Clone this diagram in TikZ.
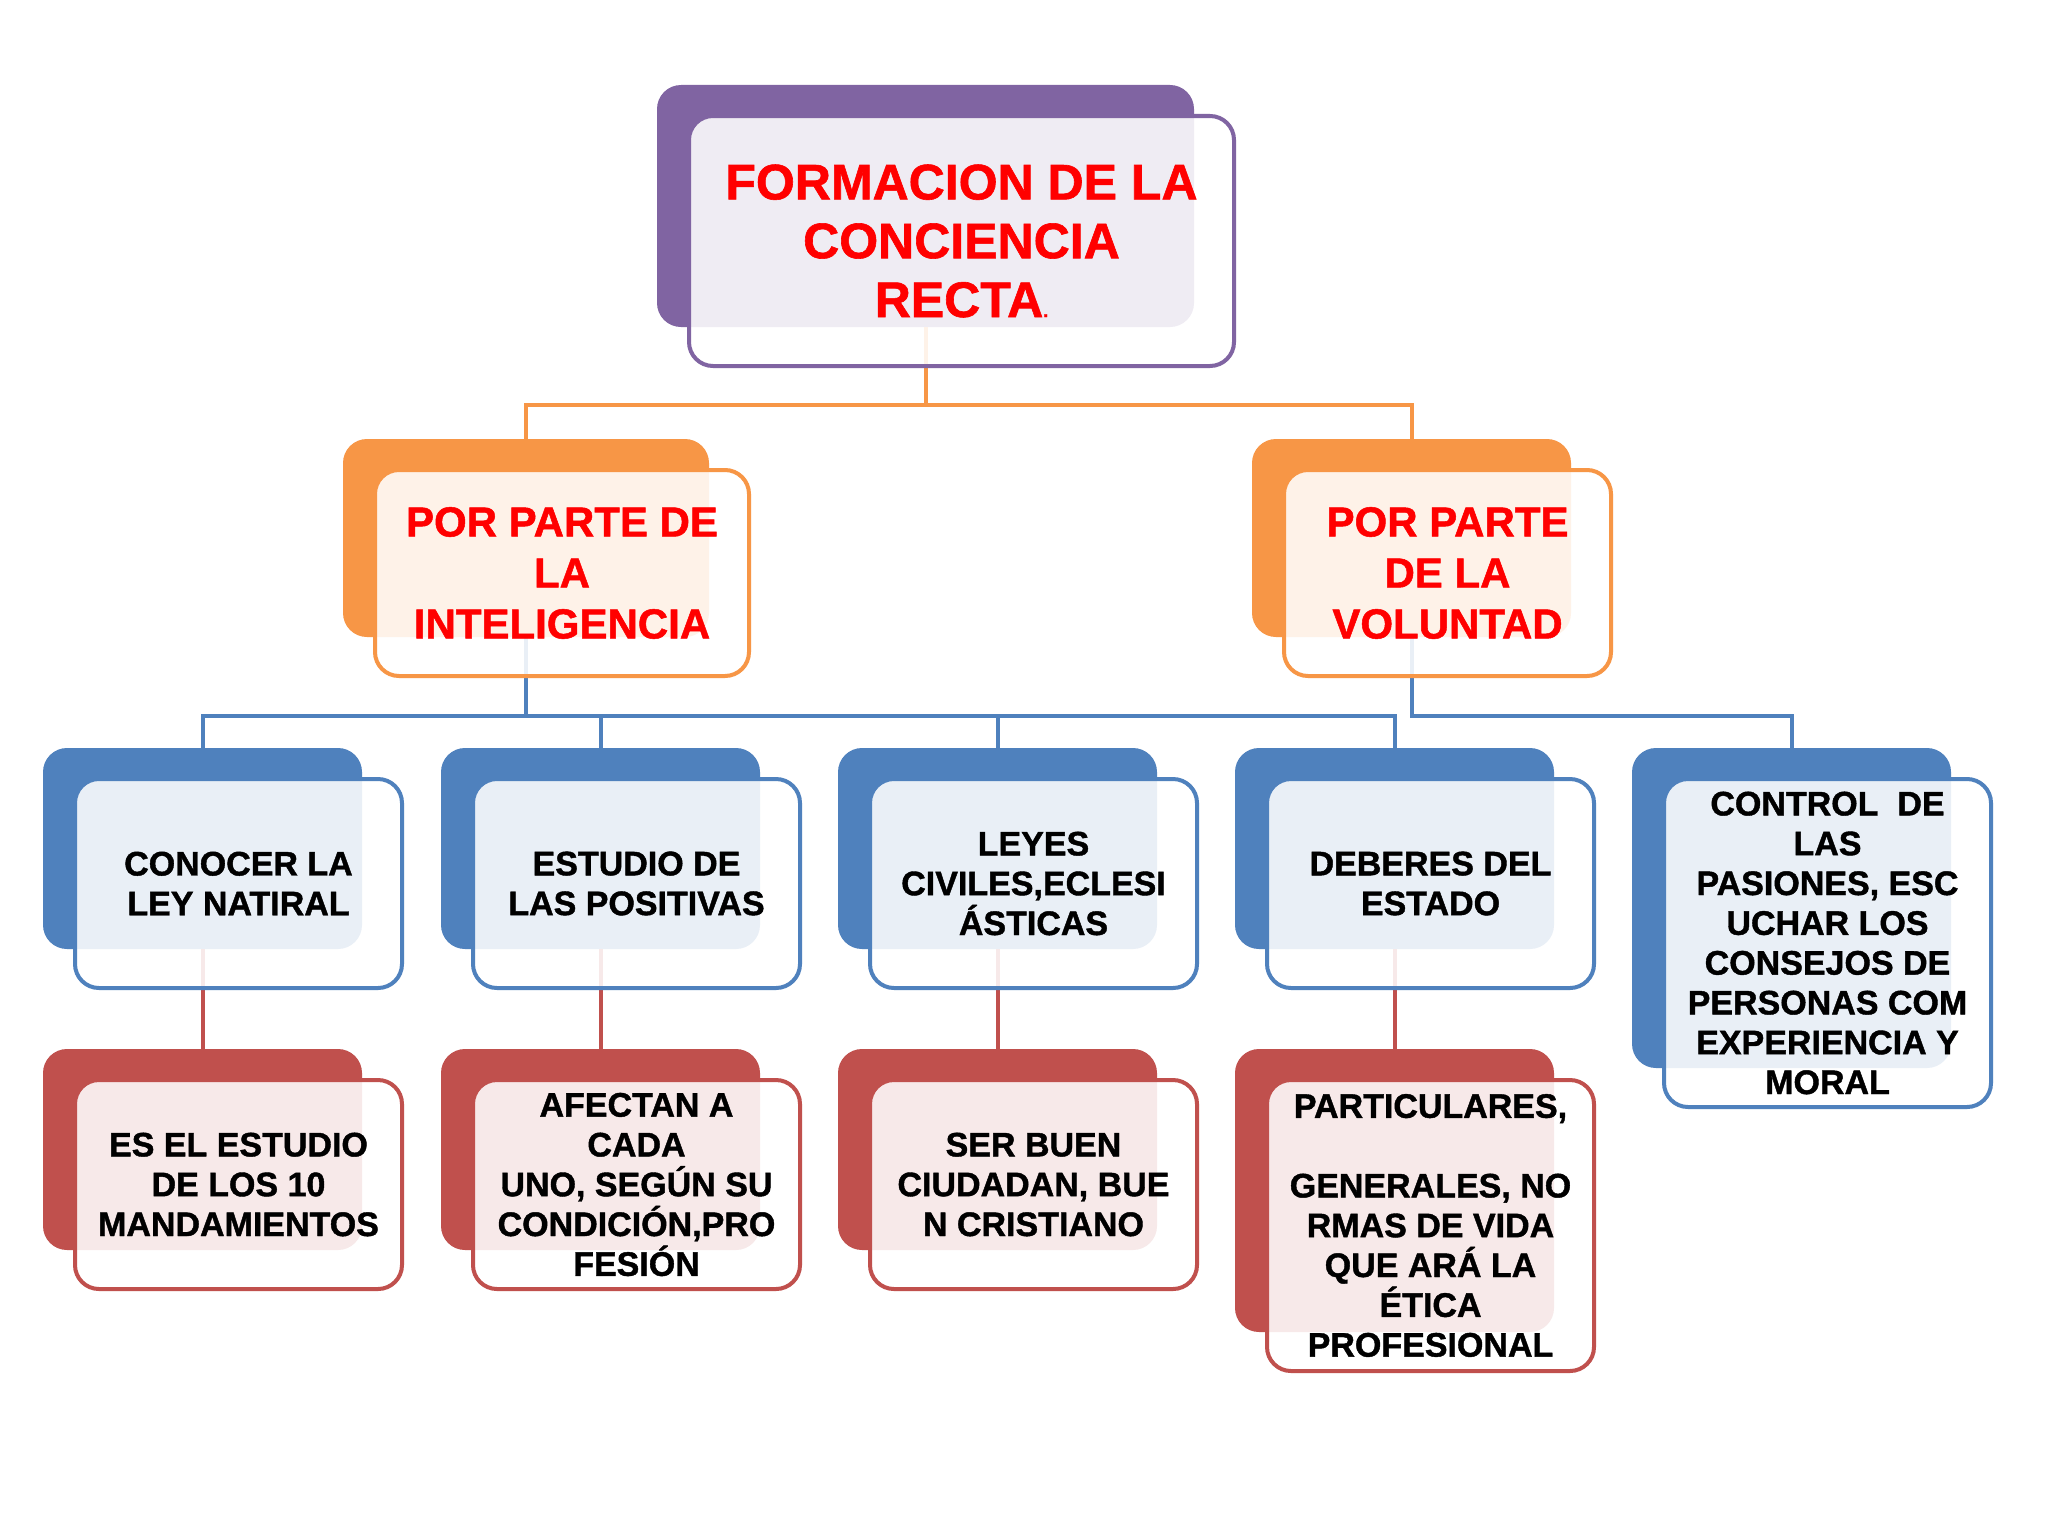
\documentclass[tikz,border=0pt]{standalone}
\usepackage{fontspec}
\setmainfont{Liberation Sans}[BoldFeatures={FakeBold=1.2}]
\definecolor{cpurple}{HTML}{8064A2}
\definecolor{corange}{HTML}{F79646}
\definecolor{cblue}{HTML}{4F81BD}
\definecolor{cred}{HTML}{C0504D}
\definecolor{tred}{HTML}{FF0000}
\pgfdeclarelayer{bg}
\pgfdeclarelayer{mid}
\pgfsetlayers{bg,mid,main}
\tikzset{
  backbox/.style={fill=#1, draw=none, rounded corners=12pt, inner sep=0pt},
  frontbox/.style={draw=#1, line width=2pt, fill=white, fill opacity=0.88, draw opacity=1, rounded corners=12pt, inner sep=0pt},
  toptext/.style={font=\fontsize{25}{29.4}\selectfont\bfseries, text=tred, inner sep=0pt},
  midtext/.style={font=\fontsize{21}{25.5}\selectfont\bfseries, text=tred, inner sep=0pt},
  lowtext/.style={font=\fontsize{17}{19.9}\selectfont\bfseries, text=black, inner sep=0pt},
  conn/.style={draw=#1, line width=2pt},
}
\newcommand\twobox[8]{%
  \begin{pgfonlayer}{bg}
    \node[backbox=#2, minimum width=#5pt, minimum height=#6pt] (#1b) at (#3,#4) {};
  \end{pgfonlayer}
  \node[frontbox=#2, minimum width=#5pt+4pt, minimum height=#6pt+4pt] (#1f) at (#3+36,#4+35) {};
  \node[#7, align=center] (#1t) at (#1f.center) {#8};
}
\begin{document}
\begin{tikzpicture}[x=0.5pt,y=-0.5pt]
\begin{pgfonlayer}{bg}
  \fill[white] (0,0) rectangle (2048,1536);
\end{pgfonlayer}
\useasboundingbox (0,0) rectangle (2048,1536);

\twobox{top}{cpurple}{925.5}{206}{268.5}{121}{toptext}{FORMACION DE LA\\CONCIENCIA\\RECTA{\fontsize{9}{9}\selectfont.}}

\twobox{ol}{corange}{526}{538}{183}{99}{midtext}{POR PARTE DE\\LA\\INTELIGENCIA}
\twobox{or}{corange}{1411.5}{538}{159.5}{99}{midtext}{POR PARTE\\DE LA\\VOLUNTAD}

\twobox{bA}{cblue}{202.5}{848.5}{159.5}{100.5}{lowtext}{CONOCER LA\\LEY NATIRAL}
\twobox{bB}{cblue}{600.5}{848.5}{159.5}{100.5}{lowtext}{ESTUDIO DE\\LAS POSITIVAS}
\twobox{bC}{cblue}{997.5}{848.5}{159.5}{100.5}{lowtext}{LEYES\\CIVILES,ECLESI\\ÁSTICAS}
\twobox{bD}{cblue}{1394.5}{848.5}{159.5}{100.5}{lowtext}{DEBERES DEL\\ESTADO}
\twobox{bE}{cblue}{1791.5}{908}{159.5}{160}{lowtext}{CONTROL\ \ DE\\LAS\\PASIONES, ESC\\UCHAR LOS\\CONSEJOS DE\\PERSONAS COM\\EXPERIENCIA Y\\MORAL}

\twobox{rA}{cred}{202.5}{1149.5}{159.5}{100.5}{lowtext}{ES EL ESTUDIO\\DE LOS 10\\MANDAMIENTOS}
\twobox{rB}{cred}{600.5}{1149.5}{159.5}{100.5}{lowtext}{AFECTAN A\\CADA\\UNO, SEGÚN SU\\CONDICIÓN,PRO\\FESIÓN}
\twobox{rC}{cred}{997.5}{1149.5}{159.5}{100.5}{lowtext}{SER BUEN\\CIUDADAN, BUE\\N CRISTIANO}
\twobox{rD}{cred}{1394.5}{1190.5}{159.5}{141.5}{lowtext}{PARTICULARES,\\\mbox{}\\GENERALES, NO\\RMAS DE VIDA\\QUE ARÁ LA\\ÉTICA\\PROFESIONAL}

\begin{pgfonlayer}{mid}
  \coordinate (j0) at (925.5,405);
  \draw[conn=corange] (topb.south) -- (j0) -| (olb.north);
  \draw[conn=corange] (j0) -| (orb.north);
  \coordinate (j1) at (526,716);
  \draw[conn=cblue] (olb.south) -- (j1) -| (bAb.north);
  \draw[conn=cblue] (j1) -| (bBb.north);
  \draw[conn=cblue] (j1) -| (bCb.north);
  \draw[conn=cblue] (j1) -| (bDb.north);
  \coordinate (j2) at (1411.5,716);
  \draw[conn=cblue] (orb.south) -- (j2) -| (bEb.north);
  \draw[conn=cred] (bAb.south) -- (rAb.north);
  \draw[conn=cred] (bBb.south) -- (rBb.north);
  \draw[conn=cred] (bCb.south) -- (rCb.north);
  \draw[conn=cred] (bDb.south) -- (rDb.north);
\end{pgfonlayer}
\end{tikzpicture}
\end{document}
